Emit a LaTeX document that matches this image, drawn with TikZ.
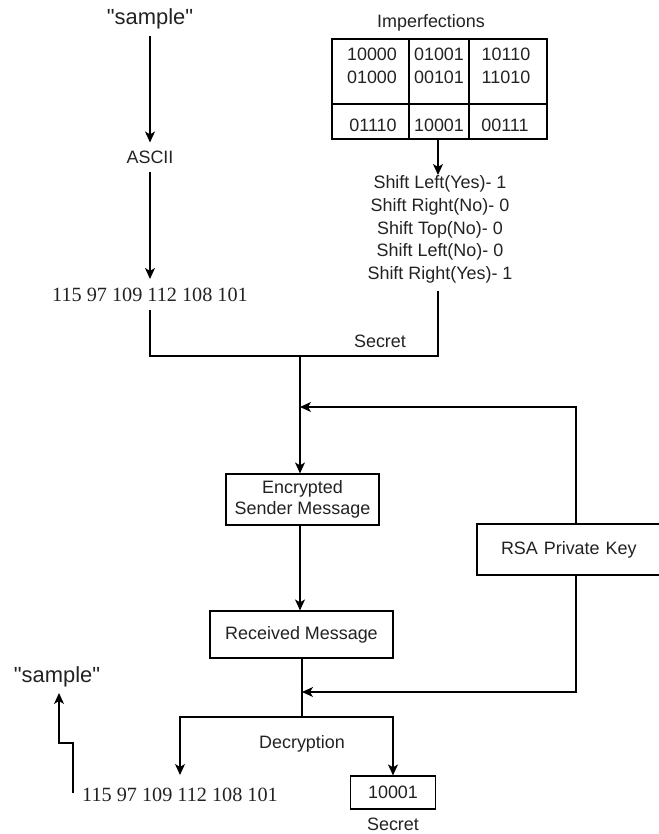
\documentclass[tikz,border=0pt]{standalone}
\usepackage{fontspec}
\setmainfont{Liberation Sans}[Ligatures=TeXOff]
\newfontfamily\serifnum{Liberation Serif}
\usetikzlibrary{arrows.meta}
\definecolor{txtc}{HTML}{222222}
\begin{document}
\begin{tikzpicture}[x=1bp,y=-1bp,
  ln/.style={line width=1.2bp, draw=black},
  arr/.style={ln, -{Stealth[length=11bp,width=10bp,inset=3bp]}},
  lbl/.style={inner sep=0pt, text=txtc, font=\fontsize{18}{23}\selectfont, align=center},
  nums/.style={inner sep=0pt, text=txtc, font=\serifnum\fontsize{20.3}{23}\selectfont},
  boxn/.style={ln, fill=white, text=txtc, font=\fontsize{18}{21}\selectfont, align=center, inner sep=0pt}
]
\useasboundingbox (0,0) rectangle (659,834);
\clip (0,0) rectangle (659,834);

% top left chain
\node[lbl, font=\fontsize{22}{26}\selectfont] (s1) at (150,19) {"sample"};
\node[lbl] (ascii) at (150,157) {ASCII};
\node[nums] (n1) at (150,295) {115 97 109 112 108 101};
\draw[arr, shorten <=7bp, shorten >=8bp] (s1.south) -- (ascii.north);
\draw[arr, shorten <=8bp, shorten >=9bp] (ascii.south) -- (n1.north);

% imperfections table
\node[lbl] (imp) at (431,23) {Imperfections};
\draw[ln] (332,39) rectangle (547,139);
\draw[ln] (332,104) -- (548,104);
\draw[ln] (409,39) -- (409,139);
\draw[ln] (469,39) -- (469,139);
\node[lbl] (c1) at (372,66) {10000\\01000};
\node[lbl] (c2) at (439,66) {01001\\00101};
\node[lbl] (c3) at (506,66) {10110\\11010};
\node[lbl] (d1) at (373,125) {01110};
\node[lbl] (d2) at (439,125) {10001};
\node[lbl] (d3) at (505,125) {00111};
\coordinate (tabb) at (438,139);

\node[lbl, anchor=north] (shift) at (440,175) {Shift Left(Yes)- 1\\Shift Right(No)- 0\\Shift Top(No)- 0\\Shift Left(No)- 0\\Shift Right(Yes)- 1};
\draw[arr] (tabb) -- (shift.north -| tabb);

% join to secret
\coordinate (j1) at (300,356);
\coordinate (j2) at (438,356);
\draw[ln, shorten <=8bp] (n1.south) -- (150,356) -- (j2) -- (438,291);
\node[lbl] (secret1) at (380,341) {Secret};

% boxes
\node[boxn, minimum width=153bp, minimum height=51bp] (enc) at (302.5,499.5) {Encrypted\\Sender Message};
\node[boxn, minimum width=183bp, minimum height=47bp] (rec) at (301.5,634.5) {Received Message};
\node[boxn, minimum width=198bp, minimum height=51bp, text width=170bp, align=left] (rsa) at (576,549.5) {\hspace*{10bp}RSA Private Key};

\draw[arr] (j1) -- (enc.north -| j1);
\coordinate (k1) at (300,407);
\draw[arr] (rsa.north) |- (k1);
\draw[arr] (enc.south -| j1) -- (rec.north -| j1);

\coordinate (k2) at (302,692);
\draw[arr] (rsa.south) |- (k2);

% decryption split
\coordinate (j3) at (302,717);
\node[boxn, minimum width=85bp, minimum height=33bp] (sec) at (393,792.5) {10001};
\node[lbl] (secret2) at (393,824) {Secret};
\node[nums] (n2) at (180,795) {115 97 109 112 108 101};
\node[lbl] (decr) at (302,744) {Decryption};
\coordinate (t1) at (180,775);
\draw[ln] (rec.south -| j3) -- (j3);
\draw[arr] (j3) -| (t1);
\draw[arr] (j3) -| (sec.north);

% back to sample
\node[lbl, font=\fontsize{22}{26}\selectfont] (s2) at (57,677) {"sample"};
\coordinate (b1) at (73,793);
\draw[arr] (b1) -- (73,743) -- (59,743) -- (59,693);
\end{tikzpicture}
\end{document}
